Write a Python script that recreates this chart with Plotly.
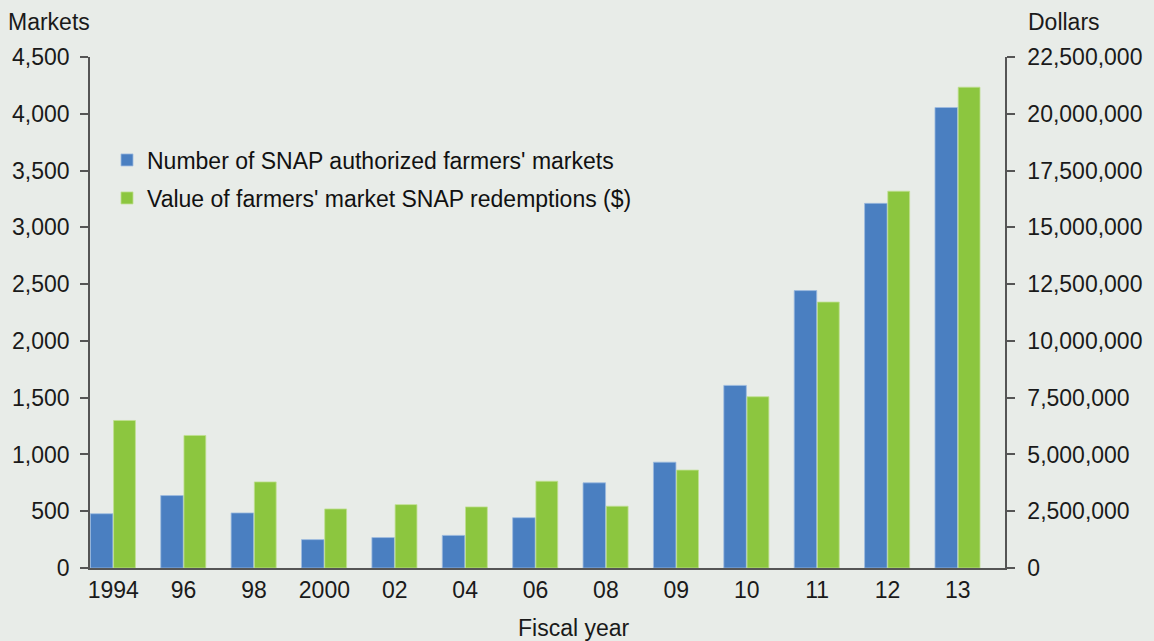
import plotly.graph_objects as go

years = ["1994", "96", "98", "2000", "02", "04", "06", "08", "09", "10", "11", "12", "13"]
markets = [478, 638, 485, 250, 268, 287, 443, 750, 932, 1608, 2443, 3211, 4055]
dollars = [6495000, 5835000, 3790000, 2600000, 2790000, 2690000, 3820000, 2720000,
           4310000, 7540000, 11710000, 16590000, 21170000]

left_ticks = [0, 500, 1000, 1500, 2000, 2500, 3000, 3500, 4000, 4500]
right_ticks = [0, 2500000, 5000000, 7500000, 10000000, 12500000, 15000000,
               17500000, 20000000, 22500000]

BLUE = "#4a7fc1"
GREEN = "#8cc63f"
BG = "#e8ece8"
AX = "#555555"
TXT = "#1a1a1a"
FONT = "Liberation Sans, Arial, Helvetica, sans-serif"
FS = 23

xi = list(range(len(years)))

fig = go.Figure()
fig.add_trace(go.Bar(
    x=xi, y=markets, name="Number of SNAP authorized farmers' markets",
    marker=dict(color=BLUE, line=dict(color="#9dbbe0", width=0.8)),
    offset=-0.325, width=0.32, yaxis="y", legend="legend"))
fig.add_trace(go.Bar(
    x=xi, y=dollars, name="Value of farmers' market SNAP redemptions ($)",
    marker=dict(color=GREEN, line=dict(color="#bfe08f", width=0.8)),
    offset=0.005, width=0.31, yaxis="y2", legend="legend2"))

leg_common = dict(xanchor="left", yanchor="middle", bgcolor="rgba(0,0,0,0)",
                  font=dict(size=FS, color="#111"), itemwidth=30)

fig.update_layout(
    width=1154, height=641,
    paper_bgcolor=BG, plot_bgcolor=BG,
    margin=dict(l=90, r=149, t=57, b=73),
    font=dict(family=FONT, size=FS, color=TXT),
    showlegend=True,
    legend=dict(x=(107 - 90) / 915, y=(568 - 160) / 511, **leg_common),
    legend2=dict(x=(107 - 90) / 915, y=(568 - 198) / 511, **leg_common),
    xaxis=dict(range=[-0.33, 12.67], tickmode="array", tickvals=xi, ticktext=years,
               showgrid=False, zeroline=False, showline=True, linecolor=AX, linewidth=2,
               ticks="", tickfont=dict(size=FS, color=TXT)),
    yaxis=dict(range=[0, 4500], tickmode="array", tickvals=left_ticks,
               ticktext=[f"{v:,}" for v in left_ticks],
               showgrid=False, zeroline=False, showline=True, linecolor=AX, linewidth=1.5,
               ticks="outside", ticklen=8, tickcolor=AX, tickwidth=1.5,
               ticklabelstandoff=6, tickfont=dict(size=FS, color=TXT)),
    yaxis2=dict(range=[0, 22500000], overlaying="y", side="right", tickmode="array",
                tickvals=right_ticks, ticktext=[f"{v:,}" for v in right_ticks],
                showgrid=False, zeroline=False, showline=True, linecolor=AX, linewidth=1.5,
                ticks="outside", ticklen=8, tickcolor=AX, tickwidth=1.5,
                ticklabelstandoff=8, tickfont=dict(size=FS, color=TXT)),
    annotations=[
        dict(text="Markets", xref="paper", yref="paper", x=-90 / 915, y=1 + 35 / 511,
             xanchor="left", yanchor="middle", showarrow=False, xshift=6,
             font=dict(size=FS, color=TXT)),
        dict(text="Dollars", xref="paper", yref="paper", x=1, y=1 + 35 / 511,
             xanchor="left", yanchor="middle", showarrow=False, xshift=21,
             font=dict(size=FS, color=TXT)),
        dict(text="Fiscal year", xref="paper", yref="paper", x=(574 - 90) / 915, y=-60 / 511,
             xanchor="center", yanchor="middle", showarrow=False,
             font=dict(size=FS, color=TXT)),
    ],
)

fig.write_html("out.html", config={"displayModeBar": False},
               post_script="document.body.style.margin='0';document.body.style.background='%s';" % BG)
